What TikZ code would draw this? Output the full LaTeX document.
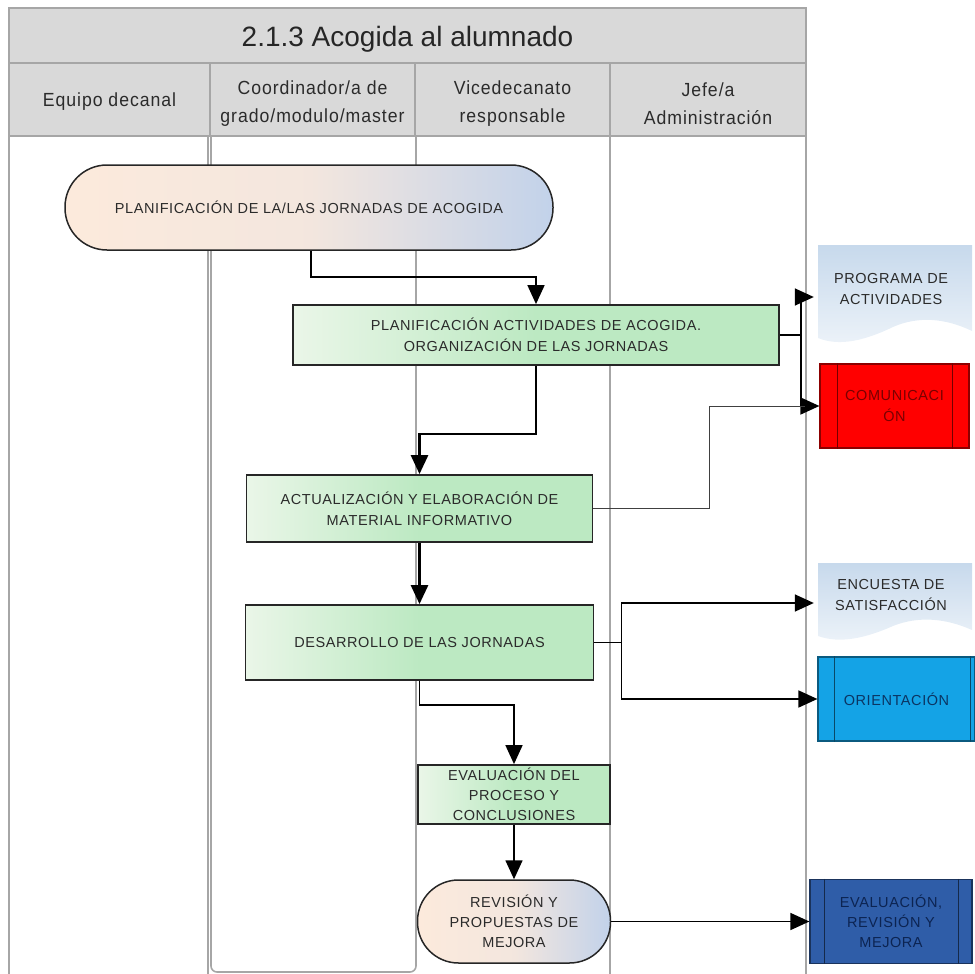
\documentclass[tikz,border=0pt]{standalone}
\usepackage{fontspec}
\setmainfont{Liberation Sans}
\newfontfamily\headfont[FakeStretch=0.93,LetterSpace=5]{Liberation Sans}
\newfontfamily\boxfont[LetterSpace=4]{Liberation Sans}
\usetikzlibrary{arrows.meta,calc}

\definecolor{lanegray}{HTML}{A6A6A6}
\definecolor{headfill}{HTML}{D9D9D9}
\definecolor{inktext}{HTML}{2B2B2B}
\definecolor{peach}{HTML}{FCEADC}
\definecolor{paleblue}{HTML}{C2D2EA}
\definecolor{boxgreen}{HTML}{BCE9C2}
\definecolor{boxgreenlt}{HTML}{EAF6E8}
\definecolor{doctop}{HTML}{C7D9EC}
\definecolor{docbottom}{HTML}{EDF3F9}
\definecolor{comred}{HTML}{FF0000}
\definecolor{comtext}{HTML}{7A0000}
\definecolor{oriblue}{HTML}{14A3E6}
\definecolor{oritext}{HTML}{0B3563}
\definecolor{evblue}{HTML}{2F5DA8}
\definecolor{evtext}{HTML}{0C2452}

\tikzset{
  headcell/.style={draw=lanegray, line width=1.8pt, fill=headfill},
  headtext/.style={text=inktext, font=\headfont\fontsize{19}{28}\selectfont, align=center},
  laneline/.style={draw=lanegray, line width=1.6pt},
  lanethin/.style={draw=lanegray, line width=1.1pt},
  boxtext/.style={align=center, text=inktext, font=\boxfont\fontsize{14.5}{21}\selectfont, inner sep=0pt},
  terminal/.style={boxtext, draw=black!85, line width=1.5pt, left color=peach, right color=paleblue,
    middle color=peach!85!paleblue},
  process/.style={boxtext, draw=black!85, line width=1.8pt, left color=boxgreenlt, right color=boxgreen,
    middle color=boxgreen},
  doctext/.style={boxtext, minimum width=154pt, minimum height=60pt},
  docfill/.style={top color=doctop, bottom color=docbottom},
  predef/.style={boxtext, draw=#1!55!black, line width=1.2pt, fill=#1},
  conn/.style={draw=black, line width=1.6pt, -{Triangle[length=19pt,width=17pt]}},
  connthick/.style={draw=black, line width=2.8pt, -{Triangle[length=19pt,width=17pt]}},
  connplain/.style={draw=black, line width=1.6pt},
  connthin/.style={draw=black!75, line width=1pt},
}

\begin{document}
\begin{tikzpicture}[x=1pt,y=-1pt]
\useasboundingbox (0,0) rectangle (975,974);

% swimlane bodies
\draw[laneline] (9,137) -- (9,990);
\draw[laneline] (208,137) -- (208,990);
\draw[laneline, rounded corners=6pt] (211,137) -- (211,972) -- (416,972) -- (416,137);
\draw[lanethin] (610,137) -- (610,990);
\draw[lanethin] (806,137) -- (806,990);

% title and lane headers
\draw[headcell] (9,8) rectangle (806,63);
\node[text=black!85, font=\fontsize{28}{32}\selectfont] (title) at (407.5,39)
  {2.1.3 Acogida al alumnado};
\draw[headcell] (9,63) rectangle (210,136);
\draw[headcell] (210,63) rectangle (415,136);
\draw[headcell] (415,63) rectangle (610,136);
\draw[headcell] (610,63) rectangle (806,136);
\node[headtext] (h1) at (109.5,102) {Equipo decanal};
\node[headtext] (h2) at (312.5,104) {Coordinador/a de\\grado/modulo/master};
\node[headtext] (h3) at (512.5,104) {Vicedecanato\\responsable};
\node[headtext] (h4) at (708,104) {Jefe/a\\Administración};

% document shapes (wavy bottom)
\path[docfill] (818,245) -- (972,245) -- (972,331)
  .. controls (945,318) and (918,316) .. (893,327)
  .. controls (866,340) and (840,347) .. (818,338) -- cycle;
\path[docfill] (818,563) -- (972,563) -- (972,630)
  .. controls (945,618) and (918,616) .. (893,626)
  .. controls (866,638) and (840,644) .. (818,636) -- cycle;

% flow nodes
\node[terminal, rounded corners=42pt, minimum width=488pt, minimum height=85pt] (t1) at (309,207.5)
  {PLANIFICACIÓN DE LA/LAS JORNADAS DE ACOGIDA};
\node[process, minimum width=486pt, minimum height=60pt] (p2) at (536,335)
  {PLANIFICACIÓN ACTIVIDADES DE ACOGIDA.\\ORGANIZACIÓN DE LAS JORNADAS};
\node[process, minimum width=346pt, minimum height=67pt] (p3) at (419.5,508.5)
  {ACTUALIZACIÓN Y ELABORACIÓN DE\\MATERIAL INFORMATIVO};
\node[process, minimum width=348pt, minimum height=75pt] (p4) at (419.5,642.5)
  {DESARROLLO DE LAS JORNADAS};
\node[process, minimum width=192pt, minimum height=59pt,
  font=\boxfont\fontsize{14.5}{20}\selectfont] (p5) at (514,794.5)
  {EVALUACIÓN DEL\\PROCESO Y\\CONCLUSIONES};
\node[terminal, rounded corners=41pt, minimum width=193pt, minimum height=83pt,
  font=\boxfont\fontsize{14.5}{20}\selectfont] (t6) at (514,921.5)
  {REVISIÓN Y\\PROPUESTAS DE\\MEJORA};

% output nodes
\node[doctext] (prog) at (891,289) {PROGRAMA DE\\ACTIVIDADES};
\node[doctext] (enc) at (891,595) {ENCUESTA DE\\SATISFACCIÓN};
\node[predef=comred, text=comtext, minimum width=149pt, minimum height=84pt] (com) at (894.5,406)
  {COMUNICACI\\ÓN};
\node[predef=oriblue, text=oritext, minimum width=157pt, minimum height=84pt] (ori) at (896.5,699)
  {ORIENTACIÓN};
\node[predef=evblue, text=evtext, minimum width=162pt, minimum height=84pt,
  font=\boxfont\fontsize{14.5}{20}\selectfont] (ev) at (891,921.5)
  {EVALUACIÓN,\\REVISIÓN Y\\MEJORA};

% inner bars of the predefined-process boxes
\foreach \n/\c/\l/\r in {com/comred/18/17, ori/oriblue/17/5, ev/evblue/15/14}{
  \draw[\c!45!black, line width=1.1pt] ([xshift=\l pt]\n.north west) -- ([xshift=\l pt]\n.south west);
  \draw[\c!45!black, line width=1.1pt] ([xshift=-\r pt]\n.north east) -- ([xshift=-\r pt]\n.south east);
}

% connectors
\draw[conn] ([xshift=2pt]t1.south) -- ++(0,26) -| (p2.north);
\draw[connplain] (p2.east) -- ++(21,0) coordinate (j1);
\draw[conn] (j1) |- ([yshift=-8pt]prog.west);
\draw[conn] (j1) |- (com.west);
\draw[connthick] (p2.south) -- ++(0,68) -| (p3.north);
\draw[connthin] (p3.east) -- ++(116,0) |- ([xshift=-14pt]com.west);
\draw[connthick] (p3.south) -- (p4.north);
\draw[connplain] (p4.east) -- ++(27,0) coordinate (j2);
\draw[conn] (j2) |- ([yshift=-8pt]enc.west);
\draw[conn] (j2) |- (ori.west);
\draw[conn] (p4.south) -- ++(0,24) -| (p5.north);
\draw[conn] (p5.south) -- (t6.north);
\draw[conn] (t6.east) -- (ev.west);
\end{tikzpicture}
\end{document}
